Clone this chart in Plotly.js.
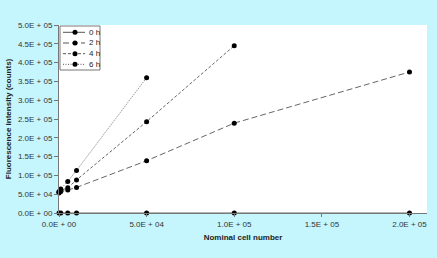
<!DOCTYPE html>
<html><head><meta charset="utf-8">
<script src="https://cdn.plot.ly/plotly-3.0.1.min.js"></script>
<style>html,body{margin:0;padding:0;background:#c6f6fd;}#chart{width:437px;height:258px;}</style>
</head><body><div id="chart"></div>
<script>
const seriesNames = ["0 h", "2 h", "4 h", "6 h"];
const x0h = [0, 1000, 5000, 10000, 50000, 100000, 200000];
const y0h = [0, 0, 0, 0, 0, 0, 0];
const x2h = [0, 1000, 5000, 10000, 50000, 100000, 200000];
const y2h = [53000, 57000, 61000, 68000, 139000, 239000, 375000];
const x4h = [0, 1000, 5000, 10000, 50000, 100000];
const y4h = [55000, 60000, 67000, 88000, 243000, 445000];
const x6h = [0, 1000, 5000, 10000, 50000];
const y6h = [57000, 64000, 84000, 113000, 360000];
const xTickVals = [0, 50000, 100000, 150000, 200000];
const xTickText = ["0.0E + 00", "5.0E + 04", "1.0E + 05", "1.5E + 05", "2.0E + 05"];
const yTickVals = [0, 50000, 100000, 150000, 200000, 250000, 300000, 350000, 400000, 450000, 500000];
const yTickText = ["0.0E + 00", "5.0E + 04", "1.0E + 05", "1.5E + 05", "2.0E + 05", "2.5E + 05", "3.0E + 05", "3.5E + 05", "4.0E + 05", "4.5E + 05", "5.0E + 05"];

const W = 437, H = 258, M = {l: 59, r: 10, t: 25, b: 45};
const PW = W - M.l - M.r, PH = H - M.t - M.b;
const px = v => (v - M.l) / PW;          // pixel -> paper x
const py = v => (H - M.b - v) / PH;      // pixel -> paper y

const dashes = ["solid", "6px,3px", "3px,2px", "1px,1.5px"];
const xs = [x0h, x2h, x4h, x6h];
const ys = [y0h, y2h, y4h, y6h];
const traces = seriesNames.map((n, i) => ({
  x: xs[i], y: ys[i], name: n, type: "scatter", mode: "lines+markers",
  line: {color: "#666", width: 1, dash: dashes[i]},
  marker: {color: "#000", size: 5, symbol: "circle"},
  cliponaxis: false, showlegend: false
}));
const ff = "Liberation Sans, Arial, sans-serif";
const shapes = [{type: "rect", xref: "paper", yref: "paper",
  x0: px(60), x1: px(100), y0: py(70), y1: py(26),
  fillcolor: "#fff", line: {color: "#777", width: 1}}];
const annotations = [];
const rowY = [32.3, 43, 53.7, 64.3];
seriesNames.forEach((n, i) => {
  shapes.push({type: "line", xref: "paper", yref: "paper", x0: px(63), x1: px(85),
    y0: py(rowY[i]), y1: py(rowY[i]), line: {color: "#555", width: 1, dash: dashes[i]}});
  shapes.push({type: "circle", xref: "paper", yref: "paper",
    xsizemode: "pixel", ysizemode: "pixel", xanchor: px(75), yanchor: py(rowY[i]),
    x0: -2.5, x1: 2.5, y0: -2.5, y1: 2.5, fillcolor: "#000", line: {color: "#000", width: 0}});
  annotations.push({xref: "paper", yref: "paper", x: px(86.5), y: py(rowY[i]),
    xanchor: "left", yanchor: "middle", showarrow: false, text: n,
    font: {family: ff, size: 8, color: "#222"}});
});
const layout = {
  width: W, height: H,
  paper_bgcolor: "#c6f6fd", plot_bgcolor: "#ffffff",
  margin: M,
  font: {family: ff, size: 8, color: "#333"},
  showlegend: false,
  shapes: shapes, annotations: annotations,
  xaxis: {range: [0, 210000], tickvals: xTickVals, ticktext: xTickText,
    showgrid: false, zeroline: false, showline: true, linecolor: "#777", linewidth: 1,
    ticks: "outside", ticklen: 3, tickcolor: "#777",
    title: {text: "<b>Nominal cell number</b>", font: {family: ff, size: 8, color: "#222"}, standoff: 6}},
  yaxis: {range: [0, 500000], tickvals: yTickVals, ticktext: yTickText,
    showgrid: false, zeroline: false, showline: true, linecolor: "#777", linewidth: 1,
    ticks: "outside", ticklen: 4, tickcolor: "#777",
    title: {text: "<b>Fluorescence intensity (counts)</b>", font: {family: ff, size: 8, color: "#222"}, standoff: 5}}
};
Plotly.newPlot("chart", traces, layout, {displayModeBar: false, staticPlot: true});
</script></body></html>
